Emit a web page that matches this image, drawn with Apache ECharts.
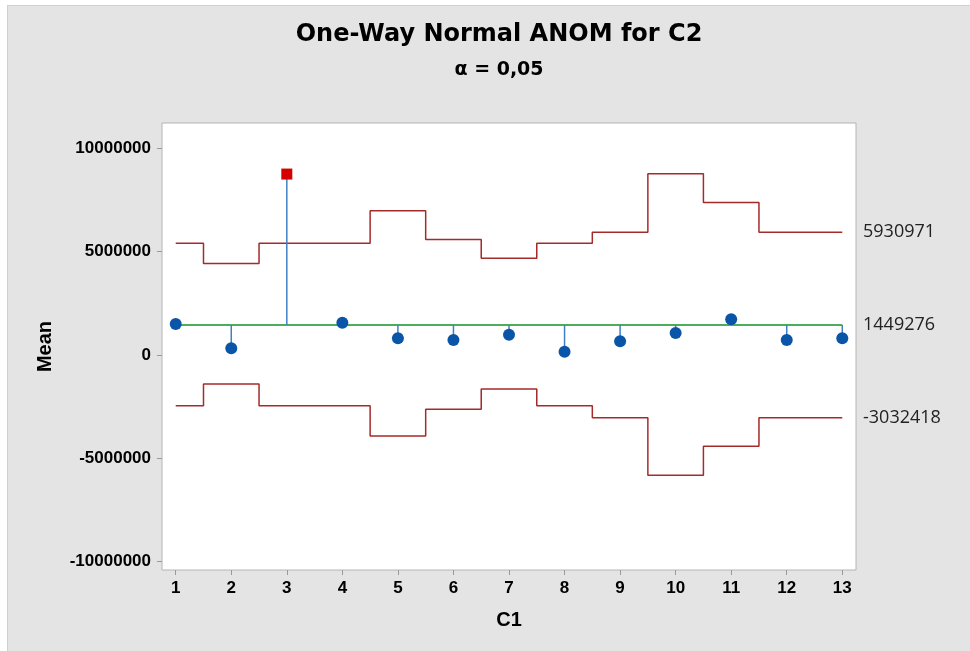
<!DOCTYPE html>
<html>
<head>
<meta charset="utf-8">
<title>One-Way Normal ANOM for C2</title>
<script src="https://cdn.jsdelivr.net/npm/echarts@6/dist/echarts.min.js"></script>
<style>
  body { margin: 0; background: #fff; }
  #anomchart {
    position: absolute; left: 7px; top: 5px;
    width: 962px; height: 645px;
    background: #e4e4e4;
    border-top: 1px solid #d0d0d0;
    border-left: 1px solid #d0d0d0;
  }
</style>
</head>
<body>
<div id="anomchart"></div>
<script>
// groups of C1
const groups = [1, 2, 3, 4, 5, 6, 7, 8, 9, 10, 11, 12, 13];
// group means of C2
const means = [1500000, 320000, 8750000, 1560000, 810000, 730000, 980000, 160000, 660000, 1060000, 1730000, 730000, 810000];
// upper / lower decision limits per group
const upperLimits = [5400000, 4420000, 5400000, 5400000, 6970000, 5580000, 4680000, 5400000, 5930971, 8770000, 7370000, 5930971, 5930971];
const lowerLimits = [-2450000, -1400000, -2450000, -2450000, -3920000, -2630000, -1650000, -2450000, -3032418, -5820000, -4420000, -3032418, -3032418];
const centerLine = 1449276;
const yTicks = [-10000000, -5000000, 0, 5000000, 10000000];
const rightLabels = [5930971, 1449276, -3032418];

const labelFont = "'Liberation Sans', Arial, sans-serif";

let chart = echarts.init(document.getElementById("anomchart"));

const pointData = means.map(function (v, i) {
  const out = v > upperLimits[i] || v < lowerLimits[i];
  return {
    value: [groups[i], v],
    symbol: out ? "rect" : "circle",
    symbolSize: out ? 11 : 12,
    itemStyle: { color: out ? "#d40000" : "#0a55a8", opacity: 1 }
  };
});

chart.setOption({
  animation: false,
  title: {
    text: "One-Way Normal ANOM for C2",
    subtext: "α = 0,05",
    left: 486,
    top: 12,
    textAlign: "center",
    itemGap: 14,
    textStyle: {
      fontFamily: "'DejaVu Sans', sans-serif",
      fontWeight: "bold",
      fontSize: 24,
      color: "#000"
    },
    subtextStyle: {
      fontFamily: "'DejaVu Sans', sans-serif",
      fontWeight: "bold",
      fontSize: 19,
      color: "#000"
    }
  },
  grid: {
    left: 154,
    top: 117,
    right: 114,
    bottom: 81,
    show: true,
    backgroundColor: "#fff",
    borderColor: "#b4b4b4",
    borderWidth: 1
  },
  xAxis: {
    type: "value",
    min: 0.753,
    max: 13.247,
    name: "C1",
    nameLocation: "middle",
    nameGap: 40,
    nameTextStyle: { fontFamily: labelFont, fontWeight: "bold", fontSize: 20, color: "#000" },
    axisLine: { show: false, onZero: false },
    splitLine: { show: false },
    axisTick: {
      show: true,
      length: 5,
      customValues: groups,
      lineStyle: { color: "#999" }
    },
    axisLabel: {
      customValues: groups,
      margin: 10,
      fontFamily: labelFont,
      fontWeight: "bold",
      fontSize: 17,
      color: "#000"
    }
  },
  yAxis: [
    {
      type: "value",
      min: -10400000,
      max: 11220000,
      name: "Mean",
      nameLocation: "middle",
      nameRotate: 90,
      nameGap: 107,
      nameTextStyle: { fontFamily: labelFont, fontWeight: "bold", fontSize: 20, color: "#000" },
      axisLine: { show: false, onZero: false },
      splitLine: { show: false },
      axisTick: {
        show: true,
        length: 5,
        customValues: yTicks,
        lineStyle: { color: "#999" }
      },
      axisLabel: {
        customValues: yTicks,
        margin: 11,
        formatter: function (v) { return String(v); },
        fontFamily: labelFont,
        fontWeight: "bold",
        fontSize: 17,
        color: "#000"
      }
    },
    {
      // limit values written to the right of the plot
      type: "value",
      position: "right",
      min: -10400000,
      max: 11220000,
      axisLine: { show: false, onZero: false },
      axisTick: { show: false },
      splitLine: { show: false },
      axisLabel: {
        customValues: rightLabels,
        margin: 7,
        formatter: function (v) { return String(v); },
        fontFamily: "'Open Sans', sans-serif",
        fontSize: 18,
        color: "#222"
      }
    }
  ],
  series: [
    {
      type: "line",
      step: "middle",
      symbol: "none",
      data: groups.map((g, i) => [g, upperLimits[i]]),
      lineStyle: { color: "#a52a2a", width: 1.5 },
      z: 2
    },
    {
      type: "line",
      step: "middle",
      symbol: "none",
      data: groups.map((g, i) => [g, lowerLimits[i]]),
      lineStyle: { color: "#a52a2a", width: 1.5 },
      z: 2
    },
    {
      type: "line",
      symbol: "none",
      data: [[groups[0], centerLine], [groups[groups.length - 1], centerLine]],
      lineStyle: { color: "#4cae5c", width: 2 },
      z: 3
    },
    {
      // stems from the center line to each mean
      type: "custom",
      data: groups.map((g, i) => [g, means[i]]),
      renderItem: function (params, api) {
        const p1 = api.coord([api.value(0), centerLine]);
        const p2 = api.coord([api.value(0), api.value(1)]);
        return {
          type: "line",
          shape: { x1: p1[0], y1: p1[1], x2: p2[0], y2: p2[1] },
          style: { stroke: "#3f80c4", lineWidth: 1.5 }
        };
      },
      z: 4
    },
    {
      type: "scatter",
      data: pointData,
      z: 5
    }
  ]
});
</script>
</body>
</html>
